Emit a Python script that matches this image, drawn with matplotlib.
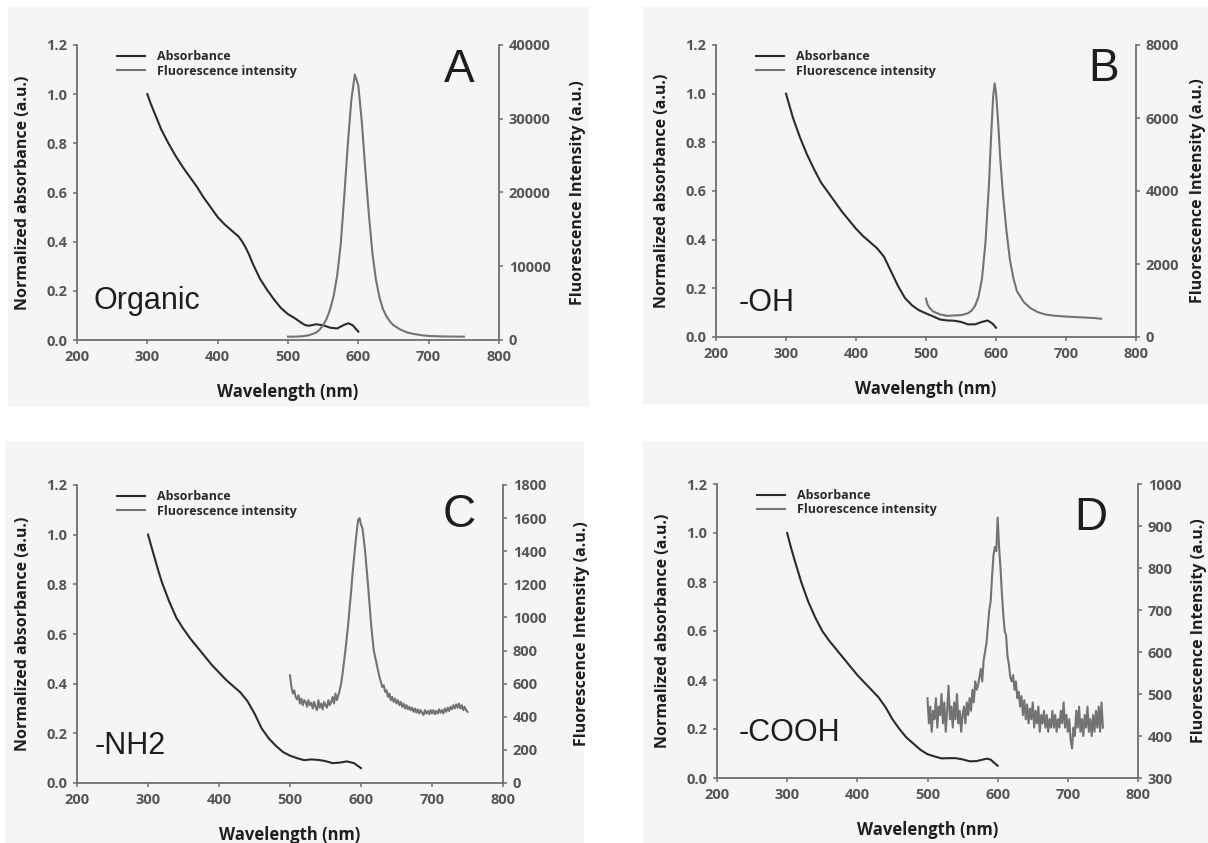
import numpy as np
import matplotlib
matplotlib.use("Agg")
import matplotlib.pyplot as plt
from matplotlib.patches import Rectangle

# ---------------- DATA ----------------
panel_letters = ["A", "B", "C", "D"]
panel_names = ["Organic", "-OH", "-NH2", "-COOH"]
legend_labels = ["Absorbance", "Fluorescence intensity"]
x_label = "Wavelength (nm)"
y_left_label = "Normalized absorbance (a.u.)"
y_right_label = "Fluorescence Intensity (a.u.)"

x_ticks = [200, 300, 400, 500, 600, 700, 800]
y_left_ticks = [0.0, 0.2, 0.4, 0.6, 0.8, 1.0, 1.2]
y_right_ticks_A = [0, 10000, 20000, 30000, 40000]
y_right_ticks_B = [0, 2000, 4000, 6000, 8000]
y_right_ticks_C = [0, 200, 400, 600, 800, 1000, 1200, 1400, 1600, 1800]
y_right_ticks_D = [300, 400, 500, 600, 700, 800, 900, 1000]

# Panel A (Organic)
abs_A_wl = [300, 305, 310, 320, 330, 340, 350, 360, 370, 380, 390, 400, 410, 420, 430, 435,
            440, 445, 450, 455, 460, 470, 480, 490, 500, 510, 520, 525, 530, 540, 550, 560,
            570, 580, 586, 592, 600]
abs_A = [1.00, 0.96, 0.925, 0.855, 0.80, 0.75, 0.705, 0.665, 0.625, 0.58, 0.54, 0.50, 0.47,
         0.445, 0.42, 0.40, 0.375, 0.345, 0.31, 0.28, 0.25, 0.205, 0.165, 0.13, 0.105, 0.088,
         0.068, 0.060, 0.058, 0.064, 0.060, 0.050, 0.047, 0.062, 0.068, 0.060, 0.034]
fl_A_wl = [500, 510, 520, 530, 540, 545, 550, 555, 560, 565, 570, 575, 580, 585, 590, 595,
           600, 605, 610, 615, 620, 625, 630, 635, 640, 645, 650, 660, 670, 680, 690, 700,
           720, 750]
fl_A = [450, 460, 500, 650, 1000, 1400, 2000, 2900, 4200, 6000, 8800, 13000, 19500, 26500,
        32500, 36000, 34500, 29500, 23000, 17000, 11800, 8200, 5800, 4200, 3200, 2500, 2000,
        1400, 1000, 800, 650, 550, 480, 450]

# Panel B (-OH)
abs_B_wl = [300, 310, 320, 330, 340, 350, 360, 370, 380, 390, 400, 410, 420, 430, 440, 450,
            460, 470, 480, 490, 500, 510, 520, 530, 540, 550, 560, 570, 580, 588, 595, 600]
abs_B = [1.00, 0.90, 0.82, 0.75, 0.69, 0.635, 0.595, 0.555, 0.515, 0.48, 0.445, 0.415, 0.39,
         0.365, 0.33, 0.27, 0.21, 0.16, 0.13, 0.11, 0.097, 0.085, 0.072, 0.068, 0.067, 0.062,
         0.052, 0.052, 0.062, 0.068, 0.055, 0.038]
fl_B_wl = [500, 502, 505, 510, 520, 530, 540, 550, 560, 565, 570, 575, 580, 585, 590, 593,
           596, 598, 600, 603, 606, 610, 615, 620, 625, 630, 640, 650, 660, 670, 680, 700,
           720, 740, 750]
fl_B = [1050, 900, 800, 700, 620, 580, 590, 600, 650, 720, 850, 1100, 1600, 2600, 4200, 5500,
        6600, 6950, 6700, 5900, 4900, 3900, 2900, 2100, 1600, 1250, 950, 780, 680, 620, 590,
        560, 540, 520, 500]

# Panel C (-NH2)
abs_C_wl = [300, 305, 310, 315, 320, 330, 340, 350, 360, 370, 380, 390, 400, 410, 420, 430,
            440, 450, 460, 470, 480, 490, 500, 510, 520, 530, 540, 550, 560, 570, 580, 590,
            595, 600]
abs_C = [1.00, 0.95, 0.90, 0.85, 0.805, 0.73, 0.665, 0.62, 0.58, 0.545, 0.51, 0.475, 0.445,
         0.415, 0.39, 0.365, 0.33, 0.28, 0.22, 0.18, 0.15, 0.125, 0.11, 0.10, 0.092, 0.095,
         0.093, 0.088, 0.080, 0.082, 0.087, 0.080, 0.070, 0.060]
fl_C = [650, 580, 540, 560, 520, 505, 530, 480, 510, 470, 500, 490, 460, 500, 470, 485, 450,
        490, 460, 440, 500, 455, 480, 445, 490, 470, 455, 500, 470, 490, 520, 480, 540, 500,
        530, 560, 600, 660, 730, 800, 880, 960, 1060, 1150, 1260, 1350, 1440, 1520, 1590,
        1600, 1560, 1540, 1470, 1390, 1290, 1190, 1080, 970, 880, 800, 760, 720, 680, 640,
        610, 580, 590, 550, 560, 520, 540, 500, 520, 490, 510, 480, 500, 470, 490, 460, 480,
        450, 470, 445, 460, 440, 455, 430, 450, 425, 445, 420, 440, 425, 410, 440, 420, 435,
        415, 440, 420, 440, 415, 435, 420, 445, 425, 440, 420, 450, 430, 455, 435, 460, 445,
        470, 450, 475, 455, 480, 450, 470, 440, 460, 440, 430]

# Panel D (-COOH)
abs_D_wl = [300, 305, 310, 320, 330, 340, 350, 360, 370, 380, 390, 400, 410, 420, 430, 440,
            450, 460, 470, 480, 490, 500, 510, 520, 530, 540, 550, 560, 570, 580, 585, 590,
            595, 600]
abs_D = [1.00, 0.945, 0.895, 0.80, 0.72, 0.655, 0.60, 0.56, 0.525, 0.49, 0.455, 0.42, 0.39,
         0.36, 0.33, 0.29, 0.24, 0.20, 0.165, 0.14, 0.115, 0.097, 0.088, 0.080, 0.081, 0.081,
         0.076, 0.068, 0.069, 0.076, 0.079, 0.075, 0.062, 0.050]
fl_D = [490, 430, 470, 410, 460, 440, 490, 420, 470, 450, 500, 430, 480, 410, 460, 520, 440,
        470, 420, 480, 440, 500, 430, 460, 410, 450, 470, 430, 480, 450, 490, 460, 510, 480,
        530, 510, 520, 540, 560, 530, 580, 600, 620, 660, 700, 720, 780, 830, 850, 840, 920,
        850, 800, 740, 690, 650, 640, 590, 570, 540, 530, 545, 510, 530, 490, 505, 470, 495,
        450, 485, 440, 475, 430, 465, 440, 480, 420, 460, 430, 470, 410, 450, 430, 460, 420,
        450, 410, 440, 420, 460, 420, 450, 410, 440, 420, 460, 430, 480, 420, 450, 410, 440,
        390, 370, 420, 400, 460, 420, 470, 410, 440, 400, 450, 420, 470, 410, 440, 400, 450,
        410, 460, 420, 470, 410, 480, 420]
fl_CD_wl = list(range(500, 752, 2))

# ---------------- LAYOUT / STYLE ----------------
W, H = 1208, 843
fig = plt.figure(figsize=(W / 100, H / 100), dpi=100)
fig.patch.set_facecolor("white")

bg_boxes = [(8, 7, 589, 407), (643, 7, 1208, 404), (5, 441, 584, 843), (643, 441, 1208, 843)]
for (x0, y0, x1, y1) in bg_boxes:
    fig.patches.append(Rectangle((x0 / W, 1 - y1 / H), (x1 - x0) / W, (y1 - y0) / H,
                                 transform=fig.transFigure, facecolor="#f5f5f5",
                                 edgecolor="none", zorder=-5))

axes_px = [(77, 45, 499, 340), (716, 45, 1136, 337), (77, 485, 503, 783), (717, 484, 1138, 778)]
right_label_offset = [79, 62, 79, 61]
letter_pos = [(0.905, 0.915), (0.923, 0.918), (0.897, 0.899), (0.888, 0.884)]
name_pos = [(0.166, 0.132), (0.121, 0.116), (0.124, 0.124), (0.173, 0.153)]

panels = [
    (abs_A_wl, abs_A, fl_A_wl, fl_A, y_right_ticks_A),
    (abs_B_wl, abs_B, fl_B_wl, fl_B, y_right_ticks_B),
    (abs_C_wl, abs_C, fl_CD_wl, fl_C, y_right_ticks_C),
    (abs_D_wl, abs_D, fl_CD_wl, fl_D, y_right_ticks_D),
]

FONT = ["Open Sans", "DejaVu Sans"]
abs_color = "#2b2b2b"
fl_color = "#737373"
spine_color = "#6e6e6e"
tick_lab_color = "#555555"

for i, (awl, av, fwl, fv, rticks) in enumerate(panels):
    l, t, r, b = axes_px[i]
    ax = fig.add_axes([l / W, 1 - b / H, (r - l) / W, (b - t) / H])
    ax.set_facecolor("none")
    ax2 = ax.twinx()
    ax2.set_facecolor("none")

    la, = ax.plot(awl, av, color=abs_color, lw=1.5, zorder=3)
    lf, = ax2.plot(fwl, fv, color=fl_color, lw=1.5, zorder=2)

    ax.set_xlim(200, 800)
    ax.set_ylim(0, 1.2)
    ax2.set_ylim(rticks[0], rticks[-1])
    ax.set_xticks(x_ticks)
    ax.set_yticks(y_left_ticks)
    ax.set_yticklabels([f"{v:.1f}" for v in y_left_ticks])
    ax2.set_yticks(rticks)

    for a in (ax, ax2):
        for s in a.spines.values():
            s.set_color(spine_color)
            s.set_linewidth(1.3)
        a.spines["top"].set_visible(False)
        a.tick_params(direction="out", length=3, width=1.1, color=spine_color,
                      labelsize=10.5, labelcolor=tick_lab_color, pad=4)
        for lab in a.get_xticklabels() + a.get_yticklabels():
            lab.set_fontfamily(FONT)
            lab.set_fontweight("bold")
    ax.spines["right"].set_visible(False)
    ax2.spines["left"].set_visible(False)
    ax2.spines["bottom"].set_visible(False)

    ax.set_xlabel(x_label, fontsize=12, fontweight="bold", family=FONT, color="#1e1e1e", va="center")
    ax.xaxis.set_label_coords(0.5, -52 / (b - t))
    ax.set_ylabel(y_left_label, fontsize=11.5, fontweight="bold", family=FONT, color="#1e1e1e", va="center")
    ax.yaxis.set_label_coords(-54 / (r - l), 0.5)
    ax2.set_ylabel(y_right_label, fontsize=11.5, fontweight="bold", family=FONT, color="#1e1e1e",
                   va="center", rotation=90)
    ax2.yaxis.set_label_coords(1 + right_label_offset[i] / (r - l), 0.5)

    ax.text(letter_pos[i][0], letter_pos[i][1], panel_letters[i], transform=ax.transAxes,
            fontsize=33, family=["Liberation Sans", "DejaVu Sans"], color="#1e1e1e",
            ha="center", va="center")
    ax.text(name_pos[i][0], name_pos[i][1], panel_names[i], transform=ax.transAxes,
            fontsize=22, family=["Liberation Sans", "DejaVu Sans"], color="#1e1e1e",
            ha="center", va="center")

    leg = ax.legend([la, lf], legend_labels, loc="upper left",
                    bbox_to_anchor=(40 / (r - l), 1 - 5 / (b - t)), frameon=False,
                    borderpad=0, borderaxespad=0, handlelength=2.2, handletextpad=1.0,
                    labelspacing=0.12, prop={"family": FONT, "size": 9, "weight": "bold"})
    for txt in leg.get_texts():
        txt.set_color("#2a2a2a")
    leg.set_zorder(10)

fig.savefig("out.png", dpi=100, facecolor="white")
